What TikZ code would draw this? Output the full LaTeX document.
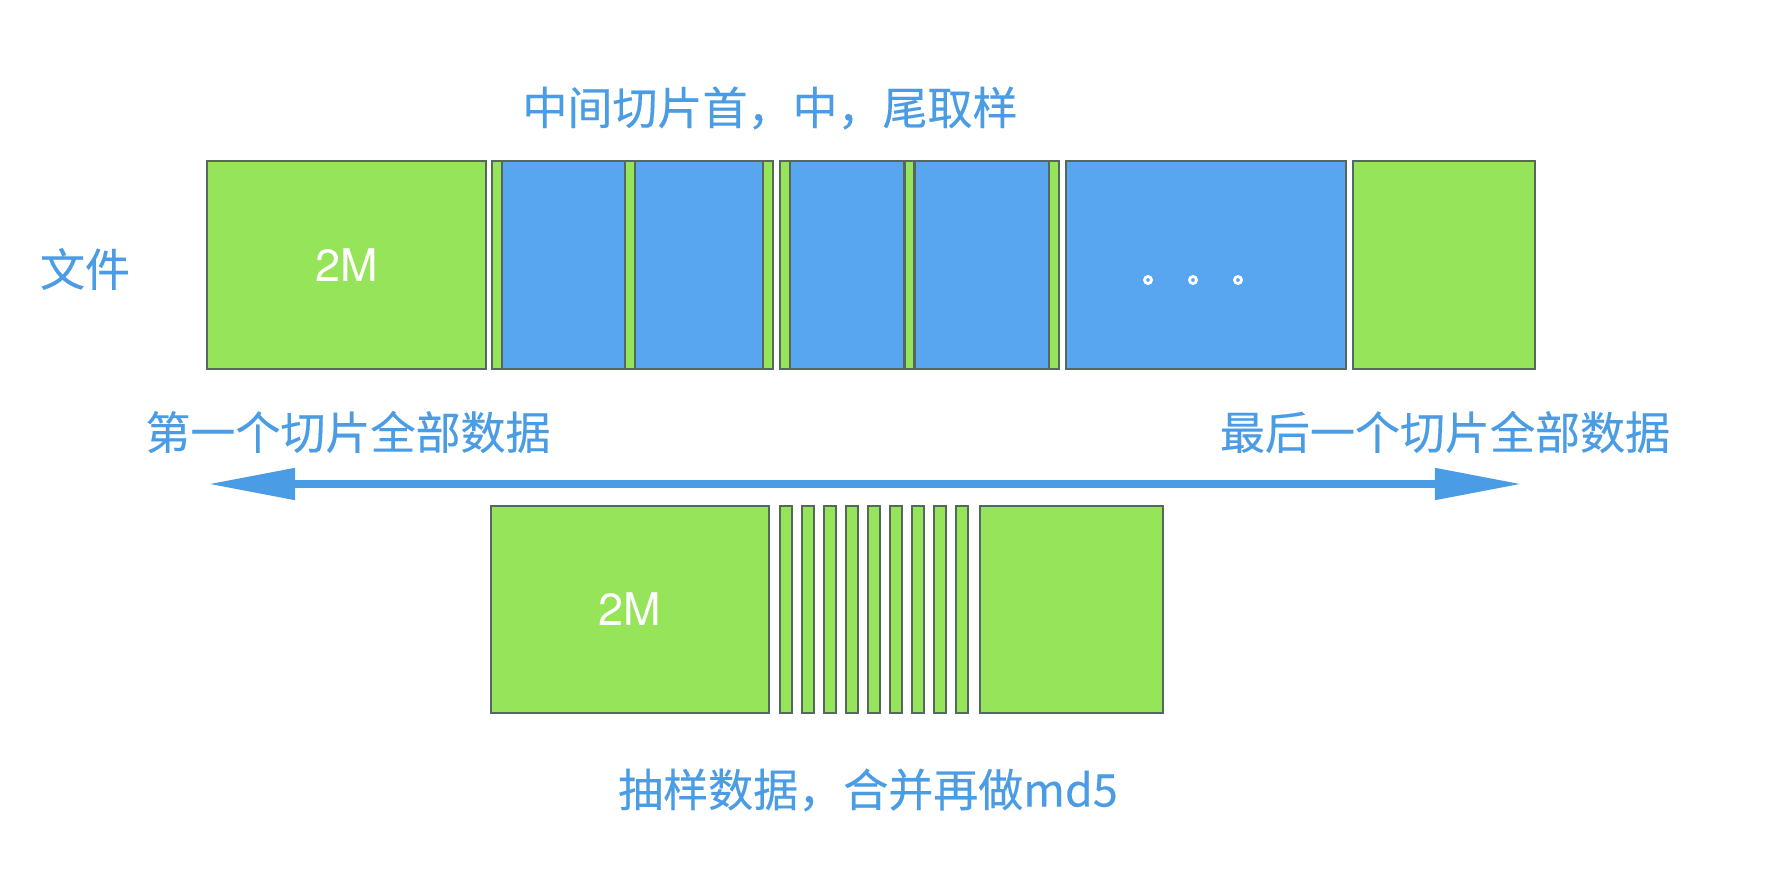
\documentclass[tikz,border=0pt]{standalone}
\usepackage{fontspec}
\newfontfamily\cjkfont{Noto Sans CJK SC}[FakeBold=0.3]
\newfontfamily\sizefont{TeX Gyre Heros}
\usetikzlibrary{positioning, arrows.meta}

\definecolor{sliceGreen}{RGB}{150,228,90}
\definecolor{sliceBlue}{RGB}{88,165,240}
\definecolor{edgeGray}{RGB}{84,104,94}
\definecolor{labelBlue}{RGB}{74,157,228}

\begin{document}
\begin{tikzpicture}[
    x=0.01cm, y=-0.01cm,
    slice/.style={draw=edgeGray, line width=0.6pt, inner sep=0pt, outer sep=0pt,
        text=white, font=\sizefont\fontsize{12.8}{15}\selectfont},
    full/.style={slice, fill=sliceGreen, minimum height=2.08cm},
    part/.style={slice, fill=sliceBlue, minimum height=2.08cm},
    strip/.style={slice, fill=sliceGreen, minimum width=0.1cm, minimum height=2.08cm},
    label/.style={font=\cjkfont\fontsize{12.8}{15}\selectfont, text=labelBlue, inner sep=0pt},
    span/.style={{Triangle[length=0.87cm, width=0.30cm]}-{Triangle[length=0.87cm, width=0.30cm]},
        draw=labelBlue, line width=0.08cm},
]
\useasboundingbox[fill=white] (0,0) rectangle (1782,870);

% File: first slice, middle slices, last slice
\node[full, minimum width=2.79cm] (first) at (346.5,265) {2M};
\node[part, minimum width=2.81cm] (mid1) at (632.5,265) {};
\node[part, minimum width=2.79cm] (mid2) at (919.5,265) {};
\node[part, minimum width=2.80cm] (rest) at (1206,265) {};
\node[full, minimum width=1.82cm] (last) at (1444,265) {};

% head / middle / tail samples of each middle slice
\foreach \sx [count=\k] in {497,630,768,785,909.5,1054}
    \node[strip] (samp\k) at (\sx,265) {};

% dots
\foreach \dx in {1148,1193,1238}
    \draw[white, line width=0.8pt] (\dx,280) circle [radius=0.035cm];

% Labels
\node[label] (midnote) at (770,108) {中间切片首，中，尾取样};
\node[label] (filenote) at (85,269) {文件};
\node[label] (firstnote) at (348,432) {第一个切片全部数据};
\node[label] (lastnote) at (1445,432) {最后一个切片全部数据};

% Span arrow
\coordinate (spanL) at (208,484);
\coordinate (spanR) at (1522,484);
\draw[span] (spanL) -- (spanR);

% Sampled data
\node[full, minimum width=2.78cm, minimum height=2.07cm] (sfirst) at (630,609.5) {2M};
\foreach \i in {0,...,8}
    \node[slice, fill=sliceGreen, minimum width=0.12cm, minimum height=2.07cm] (bit\i) at (786+22*\i,609.5) {};
\node[full, minimum width=1.83cm, minimum height=2.07cm] (slast) at (1071.5,609.5) {};

\node[label] (md5note) at (868,790) {抽样数据，合并再做md5};

\end{tikzpicture}
\end{document}
